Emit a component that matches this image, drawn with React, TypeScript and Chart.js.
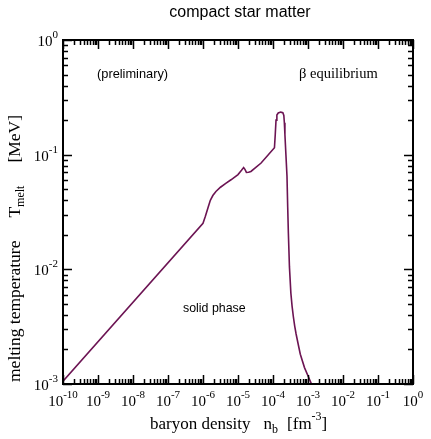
import React, { useEffect, useRef } from "react";
import { Chart, registerables } from "chart.js";

Chart.register(...registerables);

// Baryon density n_b [fm^-3]
const densityFm3 = [
  1e-10, 1.0e-6, 1.17e-6, 1.41e-6, 1.62e-6, 1.91e-6, 2.34e-6, 3.16e-6, 4.47e-6,
  6.31e-6, 1.0e-5, 1.26e-5, 1.45e-5, 1.58e-5, 1.74e-5, 2.0e-5, 2.34e-5, 4.57e-5,
  1.10e-4, 1.16e-4, 1.22e-4, 1.29e-4, 1.41e-4, 1.66e-4, 1.91e-4, 2.04e-4, 2.11e-4,
  2.19e-4, 2.34e-4, 2.51e-4, 2.63e-4, 2.75e-4, 2.95e-4, 3.24e-4, 3.50e-4, 3.80e-4,
  4.17e-4, 4.57e-4, 5.25e-4, 6.03e-4, 7.94e-4, 1.10e-3, 1.26e-3,
];

// Melting temperature T_melt [MeV]
const meltTempMeV = [
  1.06e-3, 0.0252, 0.029, 0.035, 0.040, 0.044, 0.0477, 0.052, 0.0562,
  0.0604, 0.067, 0.073, 0.0772, 0.0745, 0.070, 0.0703, 0.0714, 0.0846,
  0.115, 0.150, 0.200, 0.222, 0.231, 0.235, 0.232, 0.220, 0.190,
  0.150, 0.100, 0.065, 0.035, 0.0206, 0.0105, 0.0062, 0.0048, 0.0039,
  0.0032, 0.00273, 0.00222, 0.00182, 0.00139, 0.0011, 0.0010,
];

// Decade exponents for the tick labels
const xDecades = [-10, -9, -8, -7, -6, -5, -4, -3, -2, -1, 0];
const yDecades = [-3, -2, -1, 0];

const LINE_COLOR = "#6c1453";
const SERIF = '"Liberation Serif", "DejaVu Serif", serif';
const SANS = '"Liberation Sans", Arial, sans-serif';

type Seg = { t: string; size: number; dy?: number; gap?: number };

function segWidth(ctx: CanvasRenderingContext2D, segs: Seg[], family: string) {
  let w = 0;
  for (const s of segs) {
    ctx.font = `${s.size}px ${family}`;
    w += (s.gap || 0) + ctx.measureText(s.t).width;
  }
  return w;
}

function drawSegs(
  ctx: CanvasRenderingContext2D,
  segs: Seg[],
  x: number,
  y: number,
  family: string
) {
  let cx = x;
  for (const s of segs) {
    cx += s.gap || 0;
    ctx.font = `${s.size}px ${family}`;
    ctx.fillText(s.t, cx, y + (s.dy || 0));
    cx += ctx.measureText(s.t).width;
  }
}

function powSegs(e: number): Seg[] {
  return [
    { t: "10", size: 15 },
    { t: String(e), size: 11, dy: -8 },
  ];
}

const framePlugin = {
  id: "frameTicksLabels",
  afterDraw(chart: any) {
    const ctx: CanvasRenderingContext2D = chart.ctx;
    const { left, right, top, bottom } = chart.chartArea;
    const xs = chart.scales.x;
    const ys = chart.scales.y;
    ctx.save();
    ctx.fillStyle = "#000";
    ctx.strokeStyle = "#000";
    ctx.textBaseline = "alphabetic";
    ctx.textAlign = "left";

    // inward ticks on all four sides
    ctx.lineWidth = 1.5;
    ctx.beginPath();
    for (let k = -10; k <= 0; k++) {
      for (let m = 1; m <= 9; m++) {
        const v = m * Math.pow(10, k);
        if (v > 1.0000001) break;
        const px = Math.round(xs.getPixelForValue(v)) + 0.5;
        const len = m === 1 ? 9 : 5;
        ctx.moveTo(px, bottom);
        ctx.lineTo(px, bottom - len);
        ctx.moveTo(px, top);
        ctx.lineTo(px, top + len);
      }
    }
    for (let k = -3; k <= 0; k++) {
      for (let m = 1; m <= 9; m++) {
        const v = m * Math.pow(10, k);
        if (v > 1.0000001) break;
        const py = Math.round(ys.getPixelForValue(v)) + 0.5;
        const len = m === 1 ? 9 : 5;
        ctx.moveTo(left, py);
        ctx.lineTo(left + len, py);
        ctx.moveTo(right, py);
        ctx.lineTo(right - len, py);
      }
    }
    ctx.stroke();

    // frame
    ctx.lineWidth = 2;
    ctx.strokeRect(left, top, right - left, bottom - top);

    // x tick labels
    for (const e of xDecades) {
      const px = xs.getPixelForValue(Math.pow(10, e));
      const segs = powSegs(e);
      const w = segWidth(ctx, segs, SERIF);
      drawSegs(ctx, segs, px - w / 2, bottom + 22, SERIF);
    }
    // y tick labels
    for (const e of yDecades) {
      const py = ys.getPixelForValue(Math.pow(10, e));
      const segs = powSegs(e);
      const w = segWidth(ctx, segs, SERIF);
      drawSegs(ctx, segs, left - 5 - w, py + 6, SERIF);
    }

    // title
    ctx.font = `16px ${SANS}`;
    ctx.textAlign = "center";
    ctx.fillText("compact star matter", 240, 17);
    ctx.textAlign = "left";

    // x axis title
    const xt: Seg[] = [
      { t: "baryon density", size: 17 },
      { t: "n", size: 17, gap: 13 },
      { t: "b", size: 12, dy: 4 },
      { t: "[fm", size: 17, gap: 9 },
      { t: "-3", size: 12, dy: -9 },
      { t: "]", size: 17 },
    ];
    drawSegs(ctx, xt, 150, 429, SERIF);

    // y axis title (rotated, reading upwards)
    const yt: Seg[] = [
      { t: "melting temperature", size: 17.5 },
      { t: "T", size: 17.5, gap: 23 },
      { t: "melt", size: 12, dy: 4 },
      { t: "[MeV]", size: 17.5, gap: 23 },
    ];
    ctx.save();
    ctx.translate(20, 382);
    ctx.rotate(-Math.PI / 2);
    drawSegs(ctx, yt, 0, 0, SERIF);
    ctx.restore();

    // annotations
    ctx.font = `12.8px ${SANS}`;
    ctx.fillText("(preliminary)", 97, 78);
    ctx.font = `12.4px ${SANS}`;
    ctx.fillText("solid phase", 183, 312);
    ctx.font = `14.5px ${SERIF}`;
    ctx.fillText("\u03b2 equilibrium", 299, 78);

    ctx.restore();
  },
};

export default function App() {
  const canvasRef = useRef<HTMLCanvasElement | null>(null);

  useEffect(() => {
    if (!canvasRef.current) return;
    const points = densityFm3.map((x, i) => ({ x, y: meltTempMeV[i] }));
    const chart = new Chart(canvasRef.current, {
      type: "line",
      data: {
        datasets: [
          {
            data: points,
            borderColor: LINE_COLOR,
            borderWidth: 1.6,
            pointRadius: 0,
            tension: 0,
            fill: false,
          },
        ],
      },
      options: {
        animation: false,
        responsive: false,
        events: [],
        layout: { padding: { left: 63, top: 40, right: 18, bottom: 55 } },
        plugins: {
          legend: { display: false },
          tooltip: { enabled: false },
          title: { display: false },
        },
        scales: {
          x: { type: "logarithmic", min: 1e-10, max: 1, display: false },
          y: { type: "logarithmic", min: 1e-3, max: 1, display: false },
        },
      },
      plugins: [framePlugin],
    });
    return () => chart.destroy();
  }, []);

  return (
    <div style={{ position: "absolute", left: 0, top: 0, width: 431, height: 439, background: "#fff" }}>
      <canvas ref={canvasRef} width={431} height={439} style={{ display: "block" }} />
    </div>
  );
}
